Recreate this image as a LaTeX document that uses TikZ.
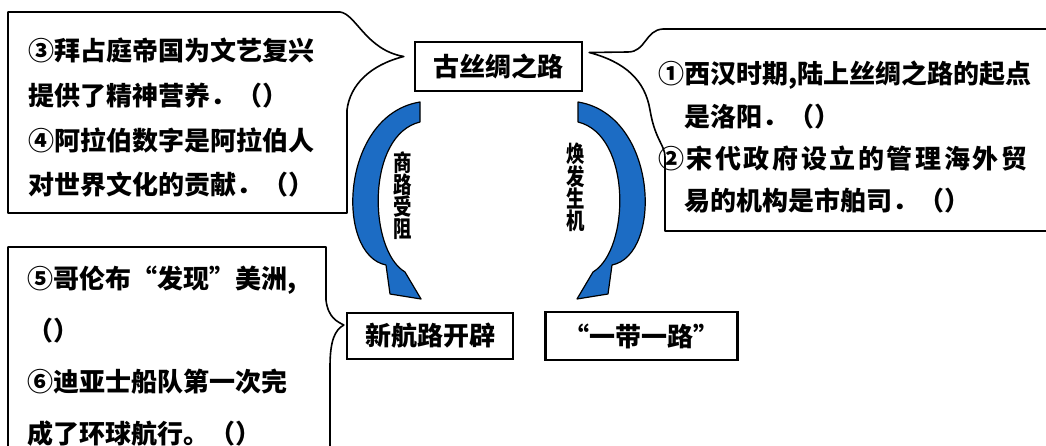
\documentclass[tikz,border=0pt]{standalone}
\usepackage{fontspec}
\setmainfont{Noto Sans CJK SC}
\usetikzlibrary{positioning}

\definecolor{bandblue}{RGB}{28,108,196}

\tikzset{
    keybox/.style={draw, line width=2.4pt, inner sep=0pt,
        font=\fontsize{26}{30}\selectfont\bfseries},
    callout/.style={draw, line width=1.6pt, line join=round},
    calltext/.style={anchor=north west, align=left, inner sep=0pt},
    band/.style={fill=bandblue, draw=black, line width=1.2pt, line join=round},
    bandtext/.style={align=center, inner sep=0pt,
        font=\fontsize{23}{22}\selectfont\bfseries\addfontfeature{FakeStretch=0.8}}
}

% one blue band, left side; the right one is its mirror image
\newcommand\bandshape{(420,102) .. controls (340,115) and (335,255) .. (386,265)
    -- (390,294) -- (421,299) -- (405,272)
    .. controls (368,250) and (366,135) .. (420,122) -- cycle}

\begin{document}
\begin{tikzpicture}[x=1pt, y=-1pt]
    \useasboundingbox (0,0) rectangle (1046,446);
    \fill[white] (0,0) rectangle (1046,446);
    \clip (0,0) rectangle (1046,446);

    \node[keybox, minimum width=167, minimum height=49] (silk) at (498.5,66.5) {古丝绸之路};
    \node[keybox, minimum width=166, minimum height=46] (route) at (430,336) {新航路开辟};
    \node[keybox, minimum width=192, minimum height=48, right=30pt of route] (belt) {“一带一路”};

    % callouts
    \draw[callout] (8,12) -- (340,12) .. controls (356,14) and (366,50)
        .. ([shift={(-10,-10)}]silk.west) .. controls (370,65) and (350,85)
        .. (347,110) -- (347,213) -- (8,213) -- cycle;
    \draw[callout] (1060,29) -- (663,29) .. controls (645,30) and (646,52)
        .. (628,52) -- ([shift={(6,-14)}]silk.east) .. controls (625,62) and (645,80)
        .. (650,110) .. controls (655,140) and (665,145) .. (665,157)
        -- (665,231) -- (1060,231);
    \draw[callout] (8,460) -- (8,247) -- (326,247) -- (326,300)
        .. controls (328,318) and (338,322) .. ([shift={(-2,-11)}]route.west)
        .. controls (335,330) and (330,340) .. (330,367) -- (330,460);

    \node[calltext, font=\fontsize{26}{44.7}\selectfont\bfseries] (ptA) at (28,38)
        {③拜占庭帝国为文艺复兴\\提供了精神营养．（）\\④阿拉伯数字是阿拉伯人\\对世界文化的贡献．（）};
    \node[calltext, font=\fontsize{26}{42.3}\selectfont\bfseries] (ptB) at (658,61)
        {①西汉时期,陆上丝绸之路的起点\\\hspace*{26pt}是洛阳．（）\\
        {\addfontfeature{LetterSpace=10}②宋代政府设立的管理海外贸}\\\hspace*{26pt}易的机构是市舶司．（）};
    \node[calltext, font=\fontsize{26}{51.5}\selectfont\bfseries] (ptC) at (27,266)
        {⑤哥伦布“发现”美洲,\\（）\\⑥迪亚士船队第一次完\\成了环球航行。（）};

    % arcs
    \path[band] \bandshape;
    \begin{scope}[shift={(998,0)}, xscale=-1]
        \path[band] \bandshape;
    \end{scope}

    \node[bandtext] (blocked) at (403,196) {商\\路\\受\\阻};
    \node[bandtext] (revive) at (576,187) {焕\\发\\生\\机};
\end{tikzpicture}
\end{document}
